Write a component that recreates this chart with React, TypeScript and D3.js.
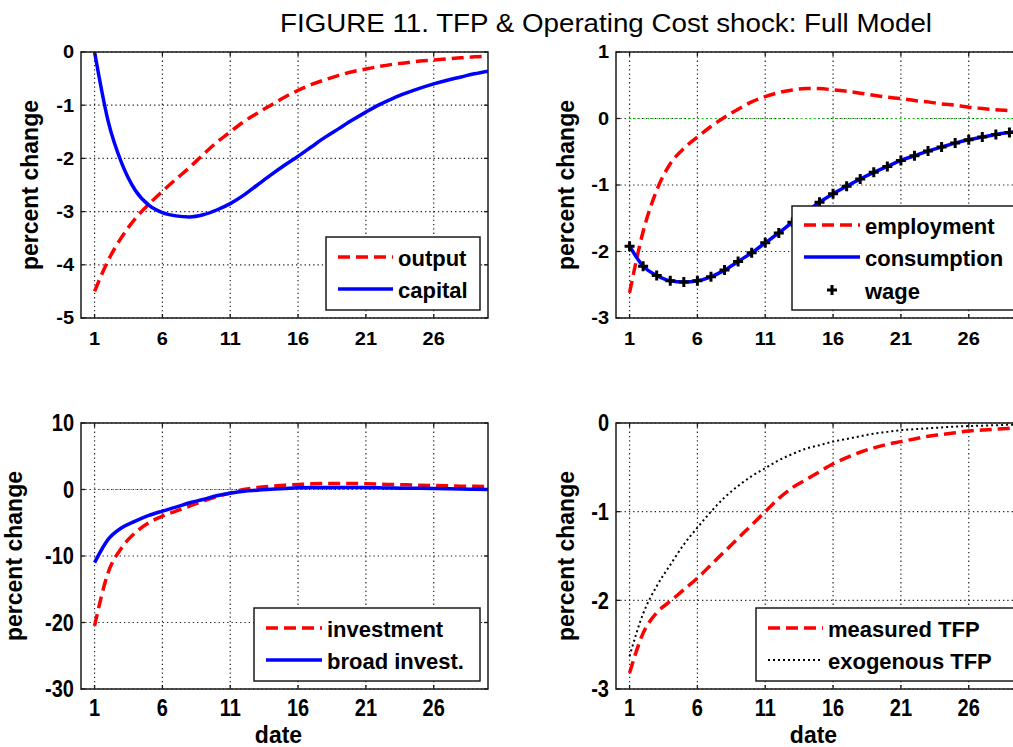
import React from 'react';
import * as d3 from 'd3';

const dates = [1, 2, 3, 4, 5, 6, 7, 8, 9, 10, 11, 12, 13, 14, 15, 16, 17, 18, 19, 20, 21, 22, 23, 24, 25, 26, 27, 28, 29, 30];
const xTicks = [1, 6, 11, 16, 21, 26];

const output = [-4.5, -3.92, -3.48, -3.13, -2.86, -2.62, -2.39, -2.17, -1.93, -1.7, -1.5, -1.31, -1.15, -1.0, -0.85, -0.72, -0.61, -0.52, -0.44, -0.37, -0.32, -0.27, -0.23, -0.2, -0.17, -0.15, -0.13, -0.11, -0.09, -0.08];
const capital = [0, -1.3, -2.09, -2.6, -2.88, -3.02, -3.08, -3.1, -3.06, -2.97, -2.85, -2.69, -2.5, -2.31, -2.13, -1.96, -1.78, -1.6, -1.44, -1.28, -1.13, -0.99, -0.87, -0.77, -0.68, -0.6, -0.53, -0.47, -0.41, -0.36];

const employment = [-2.62, -1.7, -1.08, -0.68, -0.45, -0.28, -0.12, 0.02, 0.14, 0.25, 0.33, 0.39, 0.43, 0.45, 0.45, 0.43, 0.41, 0.38, 0.35, 0.32, 0.3, 0.27, 0.25, 0.22, 0.2, 0.17, 0.15, 0.13, 0.12, 0.11];
const consumption = [-1.92, -2.22, -2.36, -2.44, -2.46, -2.44, -2.38, -2.28, -2.15, -2.02, -1.87, -1.72, -1.56, -1.41, -1.26, -1.13, -1.02, -0.91, -0.81, -0.72, -0.63, -0.56, -0.49, -0.43, -0.37, -0.32, -0.28, -0.24, -0.21, -0.18];
const wage = [-1.92, -2.22, -2.36, -2.44, -2.46, -2.44, -2.38, -2.28, -2.15, -2.02, -1.87, -1.72, -1.56, -1.41, -1.26, -1.13, -1.02, -0.91, -0.81, -0.72, -0.63, -0.56, -0.49, -0.43, -0.37, -0.32, -0.28, -0.24, -0.21, -0.18];

const investment = [-20.5, -12.5, -8.75, -6.5, -5.0, -4.0, -3.25, -2.5, -1.75, -1.1, -0.5, 0.0, 0.3, 0.5, 0.65, 0.75, 0.85, 0.9, 0.9, 0.9, 0.85, 0.8, 0.75, 0.7, 0.65, 0.6, 0.55, 0.5, 0.48, 0.45];
const broadInvest = [-11, -7.5, -5.75, -4.75, -3.9, -3.25, -2.65, -2.0, -1.5, -0.95, -0.55, -0.25, -0.1, 0.05, 0.15, 0.25, 0.3, 0.3, 0.3, 0.3, 0.28, 0.25, 0.22, 0.2, 0.17, 0.14, 0.11, 0.08, 0.04, 0.0];

const measuredTFP = [-2.82, -2.37, -2.14, -2.01, -1.88, -1.75, -1.6, -1.45, -1.3, -1.15, -1.0, -0.85, -0.73, -0.64, -0.55, -0.46, -0.39, -0.33, -0.28, -0.24, -0.21, -0.18, -0.15, -0.13, -0.11, -0.09, -0.08, -0.07, -0.06, -0.05];
const exogenousTFP = [-2.63, -2.15, -1.84, -1.6, -1.37, -1.18, -1.0, -0.84, -0.71, -0.6, -0.51, -0.42, -0.35, -0.29, -0.25, -0.21, -0.18, -0.15, -0.12, -0.1, -0.08, -0.07, -0.06, -0.05, -0.04, -0.035, -0.03, -0.025, -0.02, -0.02];

const zeroLine = [0, 0, 0, 0, 0, 0, 0, 0, 0, 0, 0, 0, 0, 0, 0, 0, 0, 0, 0, 0, 0, 0, 0, 0, 0, 0, 0, 0, 0, 0];

const yTicks1 = [-5, -4, -3, -2, -1, 0];
const yTicks2 = [-3, -2, -1, 0, 1];
const yTicks3 = [-30, -20, -10, 0, 10];
const yTicks4 = [-3, -2, -1, 0];

const TITLE = 'FIGURE 11. TFP & Operating Cost shock: Full Model';
const FONT = '"Liberation Sans", Arial, Helvetica, sans-serif';

type Style = 'dash' | 'solid' | 'dot' | 'plus' | 'zero';

interface Series { values: number[]; style: Style; label?: string }

const STYLES: Record<string, any> = {
  dash: { stroke: '#ff0000', strokeWidth: 3.5, strokeDasharray: '12,6', fill: 'none' },
  solid: { stroke: '#0000ff', strokeWidth: 3.5, fill: 'none' },
  dot: { stroke: '#000', strokeWidth: 2, strokeDasharray: '2,3', fill: 'none' },
  zero: { stroke: '#00dd00', strokeWidth: 1, strokeDasharray: '1.5,3', fill: 'none' },
};

interface PanelProps {
  id: string;
  left: number; top: number; width: number; height: number;
  yDomain: [number, number]; yTicks: number[];
  series: Series[];
  legend: { x: number; y: number; w: number; h: number; rows: number[]; lineX1: number; lineX2: number; textX: number };
  ylabelX: number;
  showDate: boolean;
  sy: number;
}

function Panel(p: PanelProps) {
  const x = d3.scaleLinear().domain([0, 30]).range([p.left, p.left + p.width]);
  const y = d3.scaleLinear().domain(p.yDomain).range([p.top + p.height, p.top]);
  const bottom = p.top + p.height;
  const right = p.left + p.width;
  const line = d3.line<number>().x((_, i) => x(dates[i])).y(d => y(d)).curve(d3.curveMonotoneX);
  const legendSeries = p.series.filter(s => s.label);
  return (
    <g>
      <defs>
        <clipPath id={p.id}>
          <rect x={p.left} y={p.top} width={p.width} height={p.height} />
        </clipPath>
      </defs>
      <rect x={p.left} y={p.top} width={p.width} height={p.height} fill="#fff" />
      {xTicks.map(t => (
        <line key={'gx' + t} x1={x(t)} x2={x(t)} y1={p.top} y2={bottom} stroke="#222" strokeWidth={1.2} strokeDasharray="1.3,3" />
      ))}
      {p.yTicks.map(t => (
        <line key={'gy' + t} x1={p.left} x2={right} y1={y(t)} y2={y(t)} stroke="#222" strokeWidth={1.2} strokeDasharray="1.3,3" />
      ))}
      <g clipPath={`url(#${p.id})`}>
        {p.series.map((s, i) =>
          s.style === 'plus' ? (
            <g key={i}>
              {s.values.map((v, j) => (
                <path key={j} d={`M${x(dates[j]) - 5},${y(v)}h10M${x(dates[j])},${y(v) - 5}v10`} stroke="#000" strokeWidth={3} />
              ))}
            </g>
          ) : (
            <path key={i} d={line(s.values) || ''} {...STYLES[s.style]} strokeLinejoin="round" />
          )
        )}
      </g>
      <rect x={p.left} y={p.top} width={p.width} height={p.height} fill="none" stroke="#1a1a1a" strokeWidth={1.5} />
      {xTicks.map(t => (
        <g key={'tx' + t}>
          <line x1={x(t)} x2={x(t)} y1={bottom} y2={bottom - 4} stroke="#1a1a1a" strokeWidth={1.3} />
          <line x1={x(t)} x2={x(t)} y1={p.top} y2={p.top + 4} stroke="#1a1a1a" strokeWidth={1.3} />
          <text transform={`translate(${x(t)},${bottom + 27}) scale(1,${p.sy})`} textAnchor="middle" fontSize={20} fontWeight="bold" fontFamily={FONT}>{t}</text>
        </g>
      ))}
      {p.yTicks.map(t => (
        <g key={'ty' + t}>
          <line x1={p.left} x2={p.left + 4} y1={y(t)} y2={y(t)} stroke="#1a1a1a" strokeWidth={1.3} />
          <line x1={right} x2={right - 4} y1={y(t)} y2={y(t)} stroke="#1a1a1a" strokeWidth={1.3} />
          <text transform={`translate(${p.left - 7},${y(t)}) scale(1,${p.sy})`} y={7} textAnchor="end" fontSize={20} fontWeight="bold" fontFamily={FONT}>{t}</text>
        </g>
      ))}
      <text transform={`translate(${p.ylabelX},${p.top + p.height / 2}) rotate(-90)`} textAnchor="middle" fontSize={23} fontWeight="bold" fontFamily={FONT}>percent change</text>
      {p.showDate && (
        <text x={p.left + p.width / 2 - 6} y={743} textAnchor="middle" fontSize={23} fontWeight="bold" fontFamily={FONT}>date</text>
      )}
      <rect x={p.legend.x} y={p.legend.y} width={p.legend.w} height={p.legend.h} fill="#fff" stroke="#1a1a1a" strokeWidth={1.5} />
      {legendSeries.map((s, i) => {
        const ry = p.legend.rows[i];
        const mid = (p.legend.lineX1 + p.legend.lineX2) / 2;
        return (
          <g key={'lg' + i}>
            {s.style === 'plus' ? (
              <path d={`M${mid - 5},${ry}h10M${mid},${ry - 5}v10`} stroke="#000" strokeWidth={3} />
            ) : (
              <line x1={p.legend.lineX1} x2={p.legend.lineX2} y1={ry} y2={ry} {...STYLES[s.style]} />
            )}
            <text x={p.legend.textX} y={ry + 9} fontSize={22} fontWeight="bold" fontFamily={FONT}>{s.label}</text>
          </g>
        );
      })}
    </g>
  );
}

export default function App() {
  return (
    <svg width={1013} height={747} style={{ position: 'absolute', left: 0, top: 0, background: '#fff' }}>
      <rect x={0} y={0} width={1013} height={747} fill="#fff" />
      <text x={280} y={32} fontSize={25} fontFamily={FONT} textLength={652} lengthAdjust="spacingAndGlyphs">{TITLE}</text>
      <Panel id="c1" left={81} top={52} width={407} height={266} yDomain={[-5, 0]} yTicks={yTicks1}
        series={[{ values: output, style: 'dash', label: 'output' }, { values: capital, style: 'solid', label: 'capital' }]}
        legend={{ x: 326, y: 237, w: 154, h: 73, rows: [257, 289], lineX1: 338, lineX2: 393, textX: 398 }}
        ylabelX={38} showDate={false} sy={0.92} />
      <Panel id="c2" left={616} top={52} width={407} height={266} yDomain={[-3, 1]} yTicks={yTicks2}
        series={[{ values: zeroLine, style: 'zero' }, { values: employment, style: 'dash', label: 'employment' }, { values: consumption, style: 'solid', label: 'consumption' }, { values: wage, style: 'plus', label: 'wage' }]}
        legend={{ x: 792, y: 206, w: 225, h: 104, rows: [225, 257, 290], lineX1: 804, lineX2: 860, textX: 865 }}
        ylabelX={574} showDate={false} sy={0.92} />
      <Panel id="c3" left={81} top={423} width={407} height={266} yDomain={[-30, 10]} yTicks={yTicks3}
        series={[{ values: zeroLine, style: 'zero' }, { values: investment, style: 'dash', label: 'investment' }, { values: broadInvest, style: 'solid', label: 'broad invest.' }]}
        legend={{ x: 254, y: 608, w: 226, h: 73, rows: [628, 660], lineX1: 266, lineX2: 322, textX: 327 }}
        ylabelX={22} showDate={true} sy={1.2} />
      <Panel id="c4" left={616} top={423} width={407} height={266} yDomain={[-3, 0]} yTicks={yTicks4}
        series={[{ values: measuredTFP, style: 'dash', label: 'measured TFP' }, { values: exogenousTFP, style: 'dot', label: 'exogenous TFP' }]}
        legend={{ x: 756, y: 608, w: 262, h: 73, rows: [628, 660], lineX1: 768, lineX2: 823, textX: 828 }}
        ylabelX={574} showDate={true} sy={1.2} />
    </svg>
  );
}
